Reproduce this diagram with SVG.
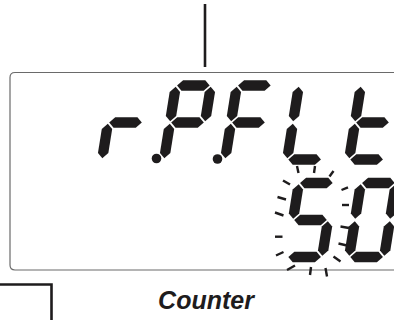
<svg xmlns="http://www.w3.org/2000/svg" xmlns:xlink="http://www.w3.org/1999/xlink" width="394" height="320" viewBox="0 0 394 320">
  <style>
    .seg { fill: #1e1c1d; }
    .ray { stroke: #1e1c1d; stroke-width: 2.4; stroke-linecap: butt; fill: none; }
    .frame { fill: none; stroke: #6a6a6a; stroke-width: 1.2; }
    .lead { stroke: #1e1c1d; stroke-width: 2.6; fill: none; }
    .label { font-family: "Liberation Sans", Arial, sans-serif; font-weight: bold; font-style: italic; font-size: 25px; fill: #1e1c1d; }
  </style>
  <defs>
    <polygon id="h" class="seg" points="1.2,0 6.4,-5.2 28.6,-5.2 33.8,0 28.6,5.2 6.4,5.2"/>
    <polygon id="v" class="seg" points="0,1.2 5.2,6.4 5.2,30.6 0,35.8 -5.2,30.6 -5.2,6.4"/>
  </defs>

  <g id="lead-line">
    <line class="lead" x1="205" y1="4" x2="205" y2="67"/>
  </g>

  <g id="display-frame">
    <path class="frame" d="M 400 72.5 H 15 Q 10 72.5 10 77.5 V 265 Q 10 270 15 270 H 400"/>
  </g>

  <g id="digit-r" transform="translate(108,122.5) skewX(-9)">
    <use xlink:href="#h" href="#h"/>
    <use xlink:href="#v" href="#v"/>
  </g>
  <g id="dot-1"><circle class="seg" cx="156.5" cy="158.5" r="4.8"/></g>

  <g id="digit-P" transform="translate(170,122.5) skewX(-9)">
    <use xlink:href="#h" href="#h" y="-37"/>
    <use xlink:href="#h" href="#h"/>
    <use xlink:href="#v" href="#v" y="-37"/>
    <use xlink:href="#v" href="#v" x="35" y="-37"/>
    <use xlink:href="#v" href="#v"/>
  </g>
  <g id="dot-2"><circle class="seg" cx="217.5" cy="159" r="4.8"/></g>

  <g id="digit-F" transform="translate(231,122.5) skewX(-9)">
    <use xlink:href="#h" href="#h" y="-37"/>
    <use xlink:href="#h" href="#h"/>
    <use xlink:href="#v" href="#v" y="-37"/>
    <use xlink:href="#v" href="#v"/>
  </g>

  <g id="digit-L" transform="translate(293,122.5) skewX(-9)">
    <use xlink:href="#v" href="#v" y="-37"/>
    <use xlink:href="#v" href="#v"/>
    <use xlink:href="#h" href="#h" y="37"/>
  </g>

  <g id="digit-t" transform="translate(355,122.5) skewX(-9)">
    <use xlink:href="#v" href="#v" y="-37"/>
    <use xlink:href="#h" href="#h"/>
    <use xlink:href="#v" href="#v"/>
    <use xlink:href="#h" href="#h" y="37"/>
  </g>

  <g id="digit-5" transform="translate(293,220) skewX(-9)">
    <use xlink:href="#h" href="#h" y="-37"/>
    <use xlink:href="#v" href="#v" y="-37"/>
    <use xlink:href="#h" href="#h"/>
    <use xlink:href="#v" href="#v" x="35"/>
    <use xlink:href="#h" href="#h" y="37"/>
  </g>

  <g id="digit-0" transform="translate(355,220) skewX(-9)">
    <use xlink:href="#h" href="#h" y="-37"/>
    <use xlink:href="#v" href="#v" y="-37"/>
    <use xlink:href="#v" href="#v" x="35" y="-37"/>
    <use xlink:href="#v" href="#v"/>
    <use xlink:href="#v" href="#v" x="35"/>
    <use xlink:href="#h" href="#h" y="37"/>
  </g>

  <g id="blink-rays">
    <line class="ray" x1="297" y1="166" x2="298.5" y2="173"/>
    <line class="ray" x1="315" y1="166" x2="314" y2="173"/>
    <line class="ray" x1="329.5" y1="176.5" x2="333.5" y2="171"/>
    <line class="ray" x1="283" y1="180.5" x2="290" y2="184.5"/>
    <line class="ray" x1="277.5" y1="197" x2="286" y2="199.5"/>
    <line class="ray" x1="275" y1="212.5" x2="283.5" y2="215.5"/>
    <line class="ray" x1="275" y1="236.7" x2="282.5" y2="236.7"/>
    <line class="ray" x1="276" y1="255.5" x2="283.5" y2="252"/>
    <line class="ray" x1="287" y1="270" x2="295" y2="265.5"/>
    <line class="ray" x1="310" y1="275" x2="311" y2="267"/>
    <line class="ray" x1="327" y1="276.5" x2="325.5" y2="268"/>
    <line class="ray" x1="333.5" y1="256.5" x2="340.5" y2="261.5"/>
    <line class="ray" x1="338.5" y1="243.5" x2="347" y2="245.5"/>
    <line class="ray" x1="340.5" y1="226.5" x2="349" y2="228"/>
    <line class="ray" x1="342" y1="205" x2="349" y2="205"/>
    <line class="ray" x1="341.5" y1="190" x2="348" y2="187.3"/>
  </g>

  <g id="bracket">
    <polyline class="lead" points="0,284.5 51.5,284.5 51.5,320"/>
  </g>

  <g id="label-counter">
    <text class="label" x="206" y="309" text-anchor="middle">Counter</text>
  </g>
</svg>
